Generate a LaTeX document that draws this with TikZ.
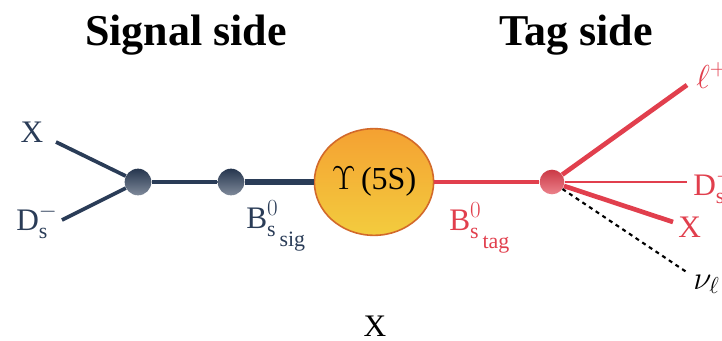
\documentclass[tikz,border=0pt]{standalone}
\usepackage{fontspec}
\setmainfont{Liberation Serif}
\usepackage{xcolor}
\usetikzlibrary{shapes.geometric}
\definecolor{sigblue}{HTML}{2A3C57}
\definecolor{tagred}{HTML}{E13F4D}
\definecolor{upstop}{HTML}{F4A132}
\definecolor{upsbot}{HTML}{F3CC3E}
\definecolor{upsedge}{HTML}{D2692A}

\begin{document}
\begin{tikzpicture}[x=0.75pt, y=-0.75pt, lbl/.style={inner sep=0pt, font=\fontsize{23.5}{28}\selectfont}, heading/.style={inner sep=0pt, anchor=base, font=\fontsize{33}{38}\selectfont\bfseries}, sigline/.style={sigblue, line width=2.8pt}, tagline/.style={tagred, line width=3.5pt}, sigdot/.style={circle, inner sep=0pt, minimum size=20pt, top color=sigblue!90!black, bottom color=sigblue!60!white}, tagdot/.style={circle, inner sep=0pt, minimum size=18.5pt, top color=tagred!90!black, bottom color=tagred!65!white}, upsball/.style={ellipse, inner sep=0pt, minimum width=88.5pt, minimum height=80pt, top color=upstop, bottom color=upsbot, draw=upsedge, line width=1.2pt, font=\fontsize{24}{28}\selectfont}]
\clip (0,0) rectangle (722,340);
\node[heading] (tsig) at (186,45) {Signal side};
\node[heading] (ttag) at (576,45) {Tag side};
% signal side
\node[sigdot] (vs1) at (138,182) {};
\node[sigdot] (vs2) at (231,182) {};
\node[upsball] (ups) at (374,182) {$\Upsilon$\,(5S)};
\coordinate (eX) at (56,142); \coordinate (eDs) at (62,220);
\draw[sigline] (eX) -- (vs1); \draw[sigline] (eDs) -- (vs1);
\draw[sigblue, line width=2.4pt] (vs1) -- (vs2);
\draw[sigblue, line width=3.8pt] (vs2) -- (ups);
\node[lbl, sigblue] (lX) at (32,132) {X};
\node[lbl, sigblue, anchor=base west] (lDs) at (16,230) {$\mathrm{D}_\mathrm{s}^-$};
\node[lbl, sigblue, anchor=base west] (lBsig) at (246,228) {$\mathrm{B}^{0}_{\mathrm{s}\,\raisebox{-0.7ex}{$\scriptstyle\mathrm{sig}$}}$};
% tag side
\node[tagdot] (vt) at (552,182) {};
\draw[tagline] (ups) -- (vt);
\foreach \name/\x/\y in {eEll/687/85, eDt/687/182, eXt/673/222, eNu/688/273} {\coordinate (\name) at (\x,\y);}
\draw[tagline] (vt) -- (eEll); \draw[tagred, line width=2pt] (vt) -- (eDt); \draw[tagline] (vt) -- (eXt);
\draw[black, dashed, line width=1.6pt] (vt) -- (eNu);
\node[lbl, tagred, anchor=base west] (lBtag) at (449,230) {$\mathrm{B}^{0}_{\mathrm{s}\,\raisebox{-0.7ex}{$\scriptstyle\mathrm{tag}$}}$};
\node[lbl, tagred, anchor=base west] (lEll) at (696,88) {$\ell^+$};
\node[lbl, tagred, anchor=base west] (lDt) at (693,195) {$\mathrm{D}_\mathrm{s}^-$};
\node[lbl, tagred, anchor=base west] (lXt) at (678,237) {X};
\node[lbl, anchor=base west, font=\fontsize{27}{30}\selectfont] (lNu) at (693,289) {$\nu_\ell$};
\node[lbl] (lXb) at (375,326) {X};
\end{tikzpicture}
\end{document}
